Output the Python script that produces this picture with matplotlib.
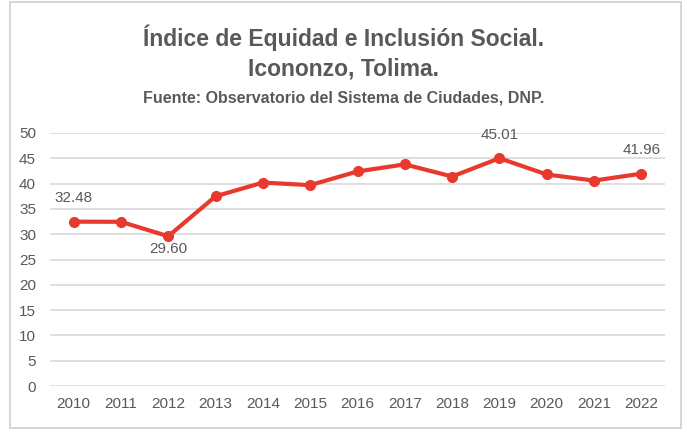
import matplotlib.pyplot as plt
from matplotlib import font_manager
from matplotlib.patches import Rectangle

years = ["2010", "2011", "2012", "2013", "2014", "2015", "2016",
         "2017", "2018", "2019", "2020", "2021", "2022"]
values = [32.48, 32.45, 29.60, 37.5, 40.2, 39.7, 42.4, 43.8, 41.4, 45.01, 41.8, 40.6, 41.96]
labeled = {0: "above", 2: "below", 9: "above", 12: "above"}
yticks = [0, 5, 10, 15, 20, 25, 30, 35, 40, 45, 50]

names = {f.name for f in font_manager.fontManager.ttflist}
narrow = "Liberation Sans Narrow" if "Liberation Sans Narrow" in names else "Liberation Sans"
plt.rcParams['font.family'] = [narrow, 'DejaVu Sans']

gray = "#595959"
red = "#E8392F"

fig = plt.figure(figsize=(6.87, 4.32), dpi=100)
fig.patches.append(Rectangle((10/687, 4/432), 671/687, 426/432, transform=fig.transFigure,
                             fill=False, edgecolor="#D0D0D0", linewidth=1.2))

ax = fig.add_axes([50/687, (432-386)/432, (665-50)/687, (386-133)/432])
x = list(range(len(years)))
ax.plot(x, values, color=red, linewidth=3, marker='o', markersize=7, zorder=3)
ax.set_xlim(-0.5, len(years) - 0.5)
ax.set_ylim(0, 50)
ax.set_yticks(yticks)
ax.set_xticks(x)
ax.set_xticklabels(years)
ax.grid(axis='y', color="#D9D9D9", linewidth=1.2)
ax.set_axisbelow(True)
for s in ax.spines.values():
    s.set_visible(False)
ax.tick_params(axis='both', length=0, colors=gray, labelsize=11)
ax.tick_params(axis='y', pad=10)
ax.tick_params(axis='x', pad=8)

for i, pos in labeled.items():
    off = 12 if pos == "above" else -4
    va = 'bottom' if pos == "above" else 'top'
    ax.annotate(f"{values[i]:.2f}", (x[i], values[i]), xytext=(0, off),
                textcoords='offset points', ha='center', va=va, color=gray, fontsize=11)

fig.text(0.5, 1 - 38/432, "Índice de Equidad e Inclusión Social.", ha='center', va='center',
         fontsize=16.5, fontweight='bold', color=gray)
fig.text(0.5, 1 - 69/432, "Icononzo, Tolima.", ha='center', va='center',
         fontsize=16.5, fontweight='bold', color=gray)
fig.text(0.5, 1 - 98/432, "Fuente: Observatorio del Sistema de Ciudades, DNP.", ha='center',
         va='center', fontsize=11.5, fontweight='bold', color=gray)

fig.savefig("out.png", dpi=100, facecolor='white')
